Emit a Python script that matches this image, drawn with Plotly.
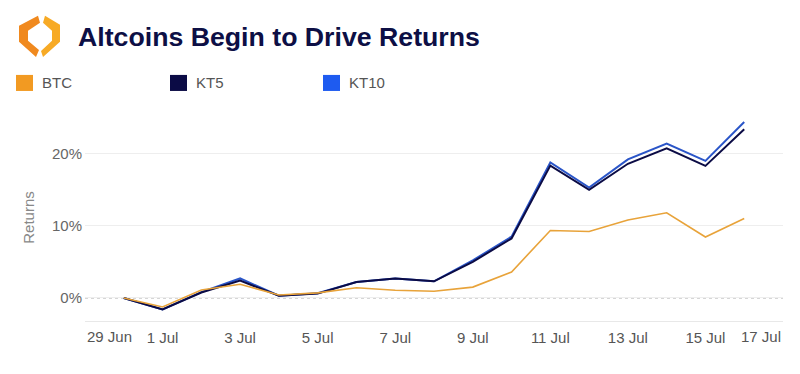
import plotly.graph_objects as go

# ---------------- data ----------------
dates = ["2024-06-30", "2024-07-01", "2024-07-02", "2024-07-03", "2024-07-04", "2024-07-05",
         "2024-07-06", "2024-07-07", "2024-07-08", "2024-07-09", "2024-07-10", "2024-07-11",
         "2024-07-12", "2024-07-13", "2024-07-14", "2024-07-15", "2024-07-16"]
btc = [0, -1.25, 1.1, 1.9, 0.4, 0.7, 1.4, 1.07, 0.93, 1.5, 3.6, 9.35, 9.2, 10.8, 11.8, 8.45, 11.0]
kt5 = [0, -1.6, 0.75, 2.4, 0.3, 0.6, 2.2, 2.7, 2.3, 5.0, 8.25, 18.35, 15.0, 18.6, 20.75, 18.3, 23.4]
kt10 = [0, -1.6, 0.8, 2.7, 0.3, 0.65, 2.2, 2.7, 2.3, 5.2, 8.5, 18.8, 15.3, 19.2, 21.4, 19.0, 24.4]
series_names = ["BTC", "KT5", "KT10"]
y_tick_vals = [0, 10, 20]
y_tick_text = ["0%", "10%", "20%"]
x_tick_vals = ["2024-07-01", "2024-07-03", "2024-07-05", "2024-07-07", "2024-07-09",
               "2024-07-11", "2024-07-13", "2024-07-15"]
x_edge_labels = [("2024-06-29", "29 Jun"), ("2024-07-17", "17 Jul")]
title_text = "Altcoins Begin to Drive Returns"
y_title = "Returns"

# ---------------- style ----------------
W, H = 800, 374
OFF = 8  # page body margin
ML, MR, MT, MB = 77, 25, 106, 61.4
PW, PH = W - ML - MR, H - MT - MB
line_colors = {"BTC": "#E8A33A", "KT5": "#0B0B45", "KT10": "#2A55C8"}
square_colors = {"BTC": "#F29A22", "KT5": "#0B0B45", "KT10": "#1E5BF0"}
FONT = "Liberation Sans, Arial, Helvetica, sans-serif"

def px_x(p):  # page pixel -> paper coordinate
    return (p - OFF - ML) / PW

def px_y(p):
    return (H - MB - (p - OFF)) / PH

fig = go.Figure()
values = {"BTC": btc, "KT5": kt5, "KT10": kt10}
for name in ["KT10", "KT5", "BTC"]:
    fig.add_trace(go.Scatter(
        x=dates, y=values[name], mode="lines", name=name, showlegend=False,
        line=dict(color=line_colors[name], width=2 if name != "BTC" else 1.6),
        hoverinfo="skip"))

shapes = []
annotations = []

# dotted zero line
shapes.append(dict(type="line", xref="paper", x0=0, x1=1, yref="y", y0=0, y1=0,
                   line=dict(color="#9a9a9a", width=1, dash="dot"), layer="below"))

# legend (squares + labels)
legend_x = [16, 170, 323]
for name, lx in zip(series_names, legend_x):
    shapes.append(dict(type="rect", xref="paper", yref="paper",
                       x0=px_x(lx), x1=px_x(lx + 17), y0=px_y(91), y1=px_y(75),
                       fillcolor=square_colors[name], line=dict(width=0)))
    annotations.append(dict(text=name, xref="paper", yref="paper", x=px_x(lx + 24), y=px_y(83),
                            xanchor="left", yanchor="middle", showarrow=False,
                            font=dict(family=FONT, size=15, color="#555555")))

# logo (two halves of a broken hexagon)
def path(points):
    return "M " + " L ".join(f"{px_x(a)},{px_y(b)}" for a, b in points) + " Z"

left_piece = [(38, 16), (19, 26), (19, 42), (36, 57), (39, 50), (28, 41), (28, 31), (40, 23)]
right_piece = [(45, 16), (60, 25), (60, 42), (43, 57), (41, 51), (52, 41), (52, 31), (43, 23)]
shapes.append(dict(type="path", xref="paper", yref="paper", path=path(left_piece),
                   fillcolor="#F0891E", line=dict(width=0)))
shapes.append(dict(type="path", xref="paper", yref="paper", path=path(right_piece),
                   fillcolor="#F7AA25", line=dict(width=0)))

# edge x labels
for (xv, txt), anc in zip(x_edge_labels, ["left", "right"]):
    annotations.append(dict(text=txt, xref="x", yref="paper", x=xv, y=0, yshift=-5,
                            xanchor=anc, yanchor="top", showarrow=False,
                            font=dict(family=FONT, size=15, color="#555555")))

fig.update_layout(
    width=W, height=H,
    margin=dict(l=ML, r=MR, t=MT, b=MB),
    paper_bgcolor="white", plot_bgcolor="white",
    font=dict(family=FONT, size=15, color="#555555"),
    title=dict(text=f"<b>{title_text}</b>", xref="container", yref="container",
               x=(78 - OFF) / W, y=1 - (37 - OFF) / H, xanchor="left", yanchor="middle",
               font=dict(family=FONT, size=26.7, color="#0D0F45")),
    xaxis=dict(type="date", range=["2024-06-29", "2024-07-17"],
               tickvals=x_tick_vals, tickformat="%-d %b",
               showgrid=False, zeroline=False, showline=True, linecolor="#e8e8e8",
               ticks="", ticklabelstandoff=3,
               tickfont=dict(family=FONT, size=15, color="#555555")),
    yaxis=dict(range=[-3.2, 25.5], tickvals=y_tick_vals, ticktext=y_tick_text,
               showgrid=True, gridcolor="#eeeeee", zeroline=False, ticks="",
               ticklabelstandoff=2,
               tickfont=dict(family=FONT, size=15, color="#666666"),
               title=dict(text=y_title, standoff=13,
                          font=dict(family=FONT, size=15, color="#888888"))),
    shapes=shapes, annotations=annotations,
)

fig.write_html("out.html")
